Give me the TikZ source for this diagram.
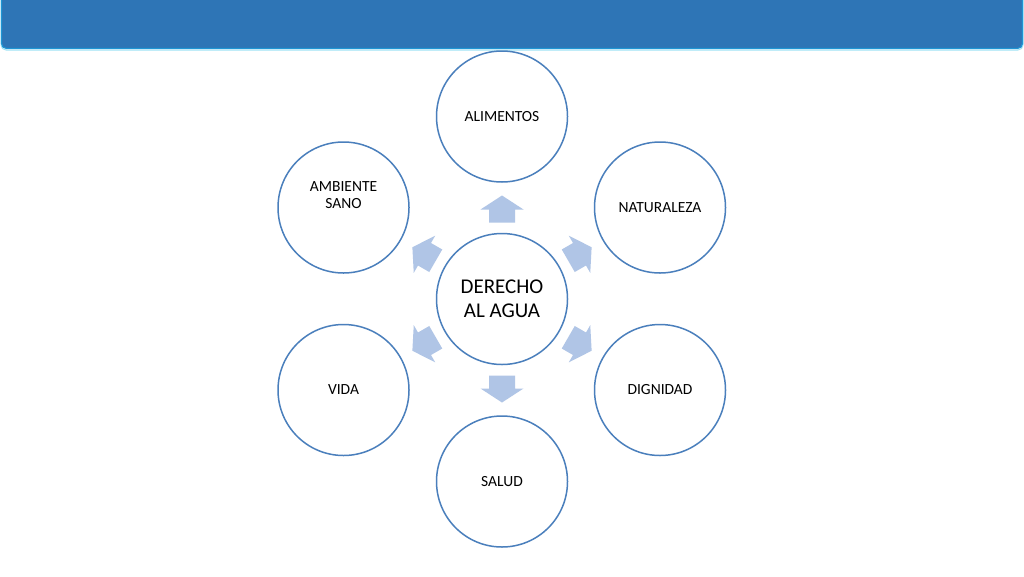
\documentclass[tikz,border=0pt]{standalone}
\usepackage{fontspec}
\setmainfont{Carlito}
\begin{document}
\begin{tikzpicture}[x=1pt,y=-1pt]
\definecolor{barblue}{HTML}{2E75B6}
\definecolor{baredge}{HTML}{1F95D4}
\definecolor{barglow}{HTML}{9FE3F5}
\definecolor{circblue}{HTML}{4A7FBC}
\definecolor{arrowblue}{HTML}{B0C5E6}
\tikzset{
  circ/.style={circle, draw=circblue, line width=1.5pt, fill=white, minimum size=131pt, inner sep=0pt, align=center, font=\fontsize{15.5}{17.5}\selectfont},
  centercirc/.style={circ, font=\fontsize{21}{24}\selectfont},
  txt/.style={inner sep=0pt, align=center, font=\fontsize{15.5}{17.5}\selectfont},
  blockarrow/.style={fill=arrowblue, draw=none}
}
\useasboundingbox (0,0) rectangle (1024,576);
\fill[white] (0,0) rectangle (1024,576);
% top bar
\draw[barglow, line width=1pt, rounded corners=5pt] (1,-6) -- (1,50) -- (1023,50) -- (1023,-6);
\draw[fill=barblue, draw=baredge, line width=1.2pt, rounded corners=5pt] (1.5,-6) rectangle (1022.5,48.5);
% block arrows
\foreach \a in {90,30,-30,-90,-150,150}{
  \fill[blockarrow, shift={(502,299)}, rotate=\a]
    (76.5,-13) -- (89.5,-13) -- (89.5,-21.5) -- (103.5,0) -- (89.5,21.5) -- (89.5,13) -- (76.5,13) -- cycle;
}
% circles
\node[centercirc] (c) at (502,299) {DERECHO\\AL AGUA};
\node[circ] (alim) at (502,116.5) {ALIMENTOS};
\node[circ] (nat) at (660,207.5) {NATURALEZA};
\node[circ] (dig) at (660,390) {DIGNIDAD};
\node[circ] (sal) at (502,481.5) {SALUD};
\node[circ] (vida) at (343.5,390) {VIDA};
\node[circ] (amb) at (343.5,207.5) {};
\node[txt] (ambt) at (343.5,195) {AMBIENTE\\SANO};
\end{tikzpicture}
\end{document}
